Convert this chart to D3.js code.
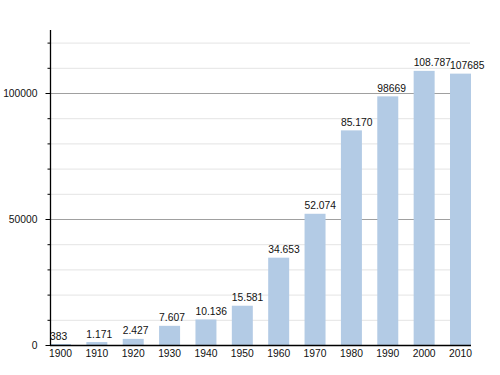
<!DOCTYPE html>
<html><head><meta charset="utf-8">
<script src="https://cdn.jsdelivr.net/npm/d3@7"></script>
<style>body{margin:0;background:#fff}text{font-family:"Liberation Sans",Arial,sans-serif}</style>
</head><body>
<svg id="c" width="500" height="375"></svg>
<script>
const years = ["1900","1910","1920","1930","1940","1950","1960","1970","1980","1990","2000","2010"];
const population = [383,1171,2427,7607,10136,15581,34653,52074,85170,98669,108787,107685];
const valueLabels = ["383","1.171","2.427","7.607","10.136","15.581","34.653","52.074","85.170","98669","108.787","107685"];
const majorTicks = [0,50000,100000];
const minorTicks = [10000,20000,30000,40000,60000,70000,80000,90000,110000,120000];

const svg = d3.select("#c");
const x = d3.scaleBand().domain(years).range([50,471]).paddingInner(0.423).paddingOuter(0);
const y = d3.scaleLinear().domain([0,125000]).range([345,30]);

// minor gridlines
svg.append("g").selectAll("line").data(minorTicks).join("line")
  .attr("x1",50).attr("x2",470).attr("y1",d=>y(d)+0.5).attr("y2",d=>y(d)+0.5)
  .attr("stroke","#e4e4e4").attr("stroke-width",1);
// major gridlines
svg.append("g").selectAll("line").data(majorTicks.filter(d=>d>0)).join("line")
  .attr("x1",50).attr("x2",470).attr("y1",d=>y(d)+0.5).attr("y2",d=>y(d)+0.5)
  .attr("stroke","#a0a0a0").attr("stroke-width",1);

// bars
svg.append("g").selectAll("rect").data(years).join("rect")
  .attr("x",d=>x(d)).attr("width",x.bandwidth())
  .attr("y",(d,i)=>y(population[i])).attr("height",(d,i)=>y(0)-y(population[i]))
  .attr("fill","#b3cbe5");

// value labels
svg.append("g").selectAll("text").data(years).join("text")
  .attr("x",d=>x(d)).attr("y",(d,i)=>y(population[i])-4.5)
  .attr("font-size",10.3).attr("fill","#111")
  .text((d,i)=>valueLabels[i]);

// y axis
const yMajor = d3.axisLeft(y).tickValues(majorTicks).tickSize(5).tickFormat(d3.format("d"));
const gy = svg.append("g").attr("transform","translate(50.5,0)").call(yMajor);
gy.select(".domain").remove();
gy.selectAll("line").attr("stroke","#000");
gy.selectAll("text").attr("font-size",10.3).attr("fill","#111").attr("x",-13).attr("font-family","Liberation Sans, Arial, sans-serif");
const yMinor = d3.axisLeft(y).tickValues(minorTicks).tickSize(3).tickFormat("");
const gym = svg.append("g").attr("transform","translate(50.5,0)").call(yMinor);
gym.select(".domain").remove();
gym.selectAll("line").attr("stroke","#000");
svg.append("line").attr("x1",50.5).attr("x2",50.5).attr("y1",30).attr("y2",346)
  .attr("stroke","#000").attr("stroke-width",1.3);

// x axis
const gx = svg.append("g").attr("transform","translate(0,345)")
  .call(d3.axisBottom(x).tickSize(0).tickPadding(5));
gx.select(".domain").remove();
gx.selectAll("text").attr("font-size",10.3).attr("fill","#111").attr("font-family","Liberation Sans, Arial, sans-serif");
svg.append("line").attr("x1",50).attr("x2",471).attr("y1",345.5).attr("y2",345.5)
  .attr("stroke","#000").attr("stroke-width",1.5);
</script>
</body></html>
